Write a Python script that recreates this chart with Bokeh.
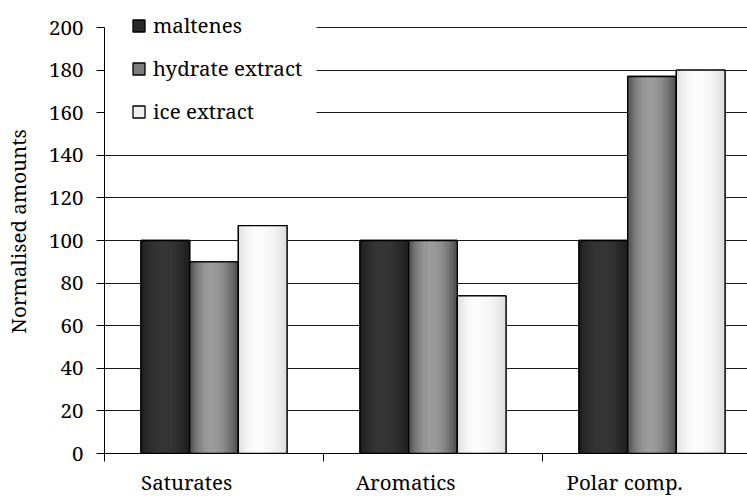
import numpy as np
from bokeh.plotting import figure
from bokeh.models import (ColumnDataSource, FixedTicker, Legend, LegendItem,
                          BoxAnnotation, Range1d)
from bokeh.embed import file_html
from bokeh.resources import INLINE

# ---- data -------------------------------------------------------------
categories = ["Saturates", "Aromatics", "Polar comp."]
series_names = ["maltenes", "hydrate extract", "ice extract"]
maltenes = [100, 100, 100]
hydrate_extract = [90, 100, 177]
ice_extract = [107, 74, 180]
y_ticks = [0, 20, 40, 60, 80, 100, 120, 140, 160, 180, 200]

series_values = [maltenes, hydrate_extract, ice_extract]

# ---- style ------------------------------------------------------------
FONT = "Noto Serif"
FONT_SIZE = "20.5px"
# (edge grey, peak grey, peak position across the bar) for a cylinder-like shading
shading = [(0x1c, 0x36, 0.45), (0x48, 0x9c, 0.45), (0xdc, 0xfc, 0.40)]
legend_fill = ["#2a2a2a", "#7c7c7c", "#eeeeee"]
N_STRIPS = 30
LABEL_SHIFT = 0.125      # category labels sit a little left of the group centre

W, H = 747, 498
BORDER_TOP, BORDER_BOTTOM = 9, 45
AXIS_TOP_PX = 27         # pixel row of the 200 gridline
Y_MAX = 200
# extend the range a little above 200 so the legend has room at the top
y_end = Y_MAX * (H - BORDER_TOP - BORDER_BOTTOM) / (H - AXIS_TOP_PX - BORDER_BOTTOM)

n_series = len(series_names)
bar_w = 1.0 / (n_series + 1.5)

p = figure(width=W, height=H, output_backend="svg", toolbar_location=None,
           x_range=Range1d(0, 2.936), y_range=Range1d(0, y_end),
           min_border_left=104, min_border_right=0, min_border_top=BORDER_TOP,
           min_border_bottom=BORDER_BOTTOM)
p.outline_line_color = None
p.background_fill_color = "white"
p.border_fill_color = "white"

# horizontal grid
p.xgrid.visible = False
p.ygrid.ticker = FixedTicker(ticks=y_ticks)
p.ygrid.grid_line_color = "#1a1a1a"
p.ygrid.grid_line_width = 1

# white area behind the legend
p.add_layout(BoxAnnotation(right=0.968, bottom=150, fill_color="white",
                           fill_alpha=1, line_alpha=0, level="underlay"))


def grey(v):
    v = int(round(v))
    return "#%02x%02x%02x" % (v, v, v)


legend_items = []
for k, (name, vals) in enumerate(zip(series_names, series_values)):
    centers = [i + 0.5 + (k - (n_series - 1) / 2) * bar_w for i in range(len(categories))]
    base = p.vbar(x=centers, top=vals, bottom=0, width=bar_w,
                  fill_color=legend_fill[k], line_color="black", line_width=1.3)
    legend_items.append(LegendItem(label=name, renderers=[base]))

    # shaded strips
    edge, peak, pos = shading[k]
    xs, tops, cols = [], [], []
    for c, v in zip(centers, vals):
        left = c - bar_w / 2
        for j in range(N_STRIPS):
            t = (j + 0.5) / N_STRIPS
            span = pos if t < pos else 1 - pos
            f = 1 - ((t - pos) / span) ** 2
            xs.append(left + t * bar_w)
            tops.append(v)
            cols.append(grey(edge + (peak - edge) * f))
    src = ColumnDataSource(dict(x=xs, top=tops, color=cols))
    p.vbar(x="x", top="top", bottom=0, width=bar_w / N_STRIPS * 1.25,
           fill_color="color", line_color=None, source=src)

    # outline on top
    p.vbar(x=centers, top=vals, bottom=0, width=bar_w,
           fill_color=None, line_color="black", line_width=1.3)

legend = Legend(items=legend_items, location=(27, 328), orientation="vertical",
                background_fill_alpha=0, border_line_alpha=0, padding=0, margin=0,
                glyph_width=15, glyph_height=15, label_standoff=7, spacing=15,
                label_height=15, label_text_font=FONT,
                label_text_font_size=FONT_SIZE, label_text_color="black")
p.add_layout(legend)

# y axis
yax = p.yaxis[0]
yax.ticker = FixedTicker(ticks=y_ticks)
yax.bounds = (0, Y_MAX)
yax.major_tick_out = 8
yax.major_tick_in = 0
yax.minor_tick_line_color = None
yax.major_label_standoff = 13
yax.axis_label = "Normalised amounts"
yax.axis_label_standoff = 14
yax.axis_label_text_font = FONT
yax.axis_label_text_font_size = FONT_SIZE
yax.axis_label_text_font_style = "normal"
yax.axis_label_text_color = "black"
yax.major_label_text_font = FONT
yax.major_label_text_font_size = FONT_SIZE
yax.major_label_text_color = "black"
yax.axis_line_color = "black"
yax.major_tick_line_color = "black"

# x axis: labels on major ticks, category boundaries on minor ticks
label_pos = [i + 0.5 - LABEL_SHIFT for i in range(len(categories))]
xax = p.xaxis[0]
xax.ticker = FixedTicker(ticks=label_pos,
                         minor_ticks=list(range(len(categories) + 1)))
xax.major_label_overrides = {pos: name for pos, name in zip(label_pos, categories)}
xax.major_tick_out = 0
xax.major_tick_in = 0
xax.minor_tick_out = 8
xax.minor_tick_in = 0
xax.minor_tick_line_color = "black"
xax.major_label_standoff = 6
xax.major_label_text_font = FONT
xax.major_label_text_font_size = FONT_SIZE
xax.major_label_text_color = "black"
xax.axis_line_color = "black"

open("out.html", "w").write(file_html(p, INLINE))
